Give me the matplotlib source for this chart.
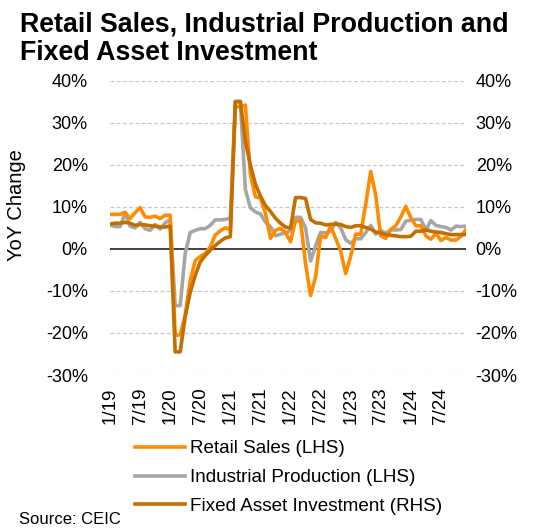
import numpy as np
import matplotlib.pyplot as plt

plt.rcParams['font.family'] = ['Liberation Sans', 'DejaVu Sans']

# monthly YoY % (first point sits on the 1/19 tick)
tick_labels = ['1/19', '7/19', '1/20', '7/20', '1/21', '7/21',
               '1/22', '7/22', '1/23', '7/23', '1/24', '7/24']

retail = [8.2,
          8.2, 8.2, 8.7, 7.2, 8.6, 9.8, 7.6, 7.5, 7.8, 7.2, 8.0, 8.0,
          -20.5, -20.5, -15.8, -7.5, -2.8, -1.8, -1.1, 0.5, 3.3, 4.3, 5.0, 4.6,
          33.8, 33.8, 34.2, 17.7, 12.4, 12.1, 8.5, 2.5, 4.4, 4.9, 3.9, 1.7,
          6.7, 6.7, -3.5, -11.1, -6.7, 3.1, 2.7, 5.4, 2.5, -0.5, -5.9, -1.8,
          3.5, 3.5, 10.6, 18.4, 12.7, 3.1, 2.5, 4.6, 5.5, 7.6, 10.1, 7.4,
          5.5, 5.5, 3.1, 2.3, 3.7, 2.0, 2.7, 2.1, 2.1, 3.0, 4.6]

industrial = [5.7,
              5.3, 5.3, 8.5, 5.4, 5.0, 6.3, 4.8, 4.4, 5.8, 4.7, 6.2, 6.9,
              -13.5, -13.5, -1.1, 3.9, 4.4, 4.8, 4.8, 5.6, 6.9, 6.9, 7.0, 7.3,
              35.1, 35.1, 14.1, 9.8, 8.8, 8.3, 6.4, 5.3, 3.1, 3.5, 3.8, 4.3,
              7.5, 7.5, 5.0, -2.9, 0.7, 3.9, 3.8, 4.2, 6.3, 5.0, 2.2, 1.3,
              2.4, 2.4, 3.9, 5.6, 3.5, 4.4, 3.7, 4.5, 4.5, 4.6, 6.6, 6.8,
              7.0, 7.0, 4.5, 6.7, 5.6, 5.3, 5.1, 4.5, 5.4, 5.3, 5.4]

fixed_asset = [5.9,
               6.1, 6.1, 6.3, 6.1, 5.6, 5.8, 5.7, 5.5, 5.4, 5.2, 5.2, 5.4,
               -24.5, -24.5, -16.1, -10.3, -6.3, -3.1, -1.6, -0.3, 0.8, 1.8, 2.6, 2.9,
               35.0, 35.0, 25.6, 19.9, 15.4, 12.6, 10.3, 8.9, 7.3, 6.1, 5.2, 4.9,
               12.2, 12.2, 12.0, 7.0, 6.2, 6.1, 5.7, 5.8, 5.9, 5.8, 5.3, 5.1,
               5.5, 5.5, 5.1, 4.7, 4.0, 3.8, 3.4, 3.2, 3.1, 2.9, 2.9, 3.0,
               4.2, 4.2, 4.5, 4.2, 4.0, 3.9, 3.6, 3.4, 3.4, 3.4, 3.4]

x = np.arange(len(retail))
c_retail = '#FF8C00'
c_ind = '#A6A6A6'
c_fai = '#C46E00'

W, H = 533, 528
fig = plt.figure(figsize=(W / 100, H / 100), dpi=100)
ax = fig.add_axes([110 / W, 1 - 375 / H, 356 / W, (375 - 80.7) / H])
ax2 = ax.twinx()

yticks = np.arange(-30, 41, 10)
for a in (ax, ax2):
    a.set_ylim(-30, 40)
    a.set_xlim(0, len(retail) - 1)
    a.set_yticks(yticks)
    a.set_yticklabels([f'{t}%' for t in yticks])
    for s in a.spines.values():
        s.set_visible(False)
    a.tick_params(length=0, labelsize=13)

for t in yticks:
    if t == 0:
        ax.axhline(0, color='#333333', lw=1.3, zorder=1)
    else:
        ax.axhline(t, color='#c8c8c8', lw=0.9, ls=(0, (3, 2)), zorder=0)

l1, = ax.plot(x, retail, color=c_retail, lw=2.6, zorder=3)
l2, = ax.plot(x, industrial, color=c_ind, lw=2.6, zorder=2)
l3, = ax2.plot(x, fixed_asset, color=c_fai, lw=2.6)

ax.set_xticks(np.arange(0, len(tick_labels) * 6, 6))
ax.set_xticklabels(tick_labels, rotation=90, fontsize=13.5)
ax.tick_params(axis='x', pad=9)
ax.tick_params(axis='y', pad=16)
ax2.tick_params(axis='y', pad=7)

fig.text(20 / W, 1 - 12 / H,
         'Retail Sales, Industrial Production and\nFixed Asset Investment',
         fontsize=19.3, fontweight='bold', va='top', linespacing=1.12)
fig.text(17 / W, 1 - 205 / H, 'YoY Change', rotation=90,
         fontsize=14.5, va='center', ha='center')
fig.text(19 / W, 1 - 527 / H, 'Source: CEIC', fontsize=12, va='bottom')

fig.legend([l1, l2, l3],
           ['Retail Sales (LHS)', 'Industrial Production (LHS)',
            'Fixed Asset Investment (RHS)'],
           loc='upper left', bbox_to_anchor=(135 / W, 1 - 440 / H),
           frameon=False, fontsize=13.6, handlelength=2.65,
           handletextpad=0.25, labelspacing=0.62, borderpad=0,
           borderaxespad=0)

fig.savefig('out.png', dpi=100)
